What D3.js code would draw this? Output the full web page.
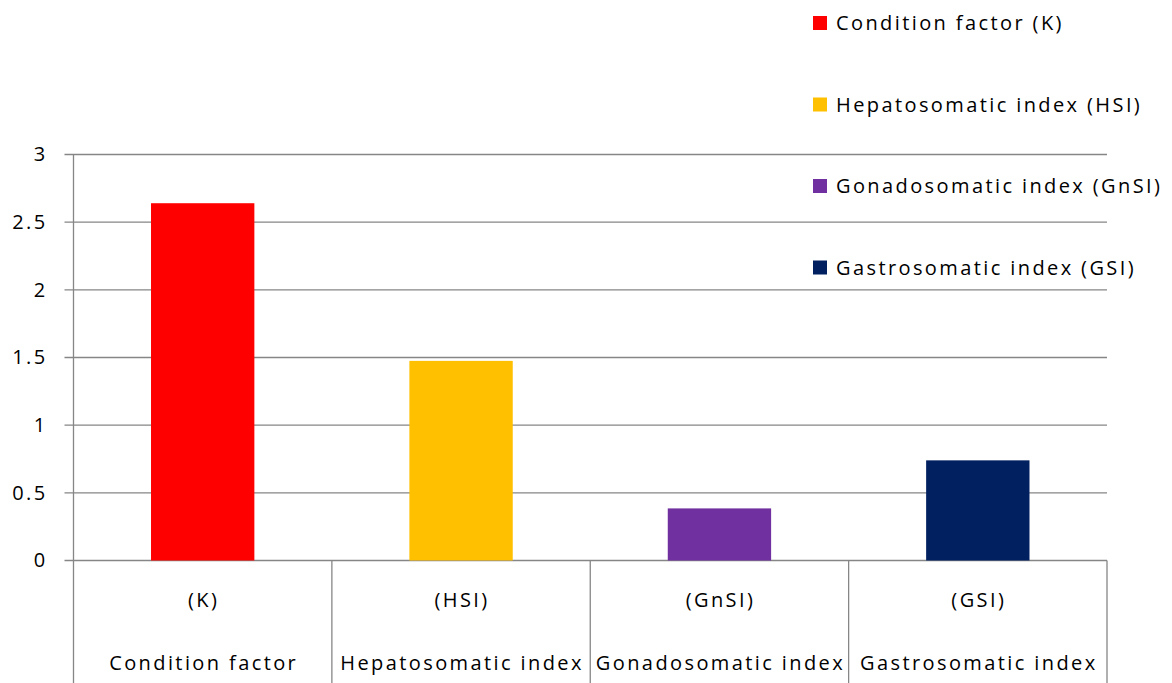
<!DOCTYPE html>
<html>
<head>
<meta charset="utf-8">
<script src="https://cdn.jsdelivr.net/npm/d3@7"></script>
<style>
  body { margin: 0; background: #fff; }
  text { font-family: "Open Sans", sans-serif; fill: #000; letter-spacing: 2.4px; }
</style>
</head>
<body>
<div id="chart"></div>
<script>
var svgWidth = 1172;
var svgHeight = 683;

// data
var categories = ["Condition factor", "Hepatosomatic index", "Gonadosomatic index", "Gastrosomatic index"];
var abbrevs = ["(K)", "(HSI)", "(GnSI)", "(GSI)"];
var values = [2.64, 1.475, 0.385, 0.74];
var colors = ["#ff0000", "#ffc000", "#7030a0", "#002060"];
var legendLabels = ["Condition factor (K)", "Hepatosomatic index (HSI)", "Gonadosomatic index (GnSI)", "Gastrosomatic index (GSI)"];
var yTicks = [0, 0.5, 1, 1.5, 2, 2.5, 3];

var margin = {left: 73.5, right: 65, top: 154.5, bottom: 122};
var width = 1107 - margin.left;
var height = 560.5 - margin.top;

var svg = d3.select("#chart")
  .append("svg")
  .attr("width", svgWidth)
  .attr("height", svgHeight);

var chartGroup = svg.append("g")
  .attr("transform", `translate(${margin.left}, ${margin.top})`);

var x = d3.scaleBand()
  .domain(categories)
  .range([0, width])
  .paddingInner(0.6)
  .paddingOuter(0.3);

var xDiv = d3.scaleLinear().domain([0, categories.length]).range([0, width]);

var y = d3.scaleLinear()
  .domain([0, 3])
  .range([height, 0]);

// gridlines
chartGroup.append("g")
  .selectAll("line")
  .data(yTicks)
  .enter()
  .append("line")
  .attr("x1", -9)
  .attr("x2", width)
  .attr("y1", d => y(d))
  .attr("y2", d => y(d))
  .attr("stroke", "#868686")
  .attr("stroke-width", 1.3);

// y axis labels
var leftAxis = d3.axisLeft(y).tickValues(yTicks).tickFormat(d3.format("~g")).tickSize(0).tickPadding(26);
var yAxis = chartGroup.append("g").call(leftAxis);
yAxis.select(".domain").remove();
yAxis.selectAll("text")
  .attr("font-size", 20)
  .attr("font-family", "Open Sans, sans-serif")
  .attr("fill", "#000");

// bars
chartGroup.selectAll("rect.bar")
  .data(values)
  .enter()
  .append("rect")
  .attr("class", "bar")
  .attr("x", (d, i) => x(categories[i]))
  .attr("y", d => y(d))
  .attr("width", x.bandwidth())
  .attr("height", d => height - y(d))
  .attr("fill", (d, i) => colors[i]);

// category dividers + left axis line
chartGroup.append("line")
  .attr("x1", 0).attr("x2", 0)
  .attr("y1", 0).attr("y2", svgHeight - margin.top)
  .attr("stroke", "#868686").attr("stroke-width", 1.3);

chartGroup.selectAll("line.div")
  .data(d3.range(1, categories.length + 1))
  .enter()
  .append("line")
  .attr("class", "div")
  .attr("x1", d => xDiv(d)).attr("x2", d => xDiv(d))
  .attr("y1", height).attr("y2", svgHeight - margin.top)
  .attr("stroke", "#868686").attr("stroke-width", 1.3);

// category labels (two rows)
chartGroup.selectAll("text.abbr")
  .data(abbrevs)
  .enter()
  .append("text")
  .attr("class", "abbr")
  .attr("x", (d, i) => x(categories[i]) + x.bandwidth() / 2 + 1)
  .attr("y", height + 46)
  .attr("text-anchor", "middle")
  .attr("font-size", 20)
  .text(d => d);

chartGroup.selectAll("text.cat")
  .data(categories)
  .enter()
  .append("text")
  .attr("class", "cat")
  .attr("x", d => x(d) + x.bandwidth() / 2 + 1)
  .attr("y", height + 109)
  .attr("text-anchor", "middle")
  .attr("font-size", 20)
  .text(d => d);

// legend
var legend = svg.append("g").attr("transform", "translate(813, 0)");
var legendRow = legend.selectAll("g")
  .data(legendLabels)
  .enter()
  .append("g")
  .attr("transform", (d, i) => `translate(0, ${23 + i * 81.5})`);

legendRow.append("rect")
  .attr("x", 0).attr("y", -7)
  .attr("width", 14).attr("height", 14)
  .attr("fill", (d, i) => colors[i]);

legendRow.append("text")
  .attr("x", 23)
  .attr("y", 7)
  .attr("font-size", 20)
  .text(d => d);
</script>
</body>
</html>
